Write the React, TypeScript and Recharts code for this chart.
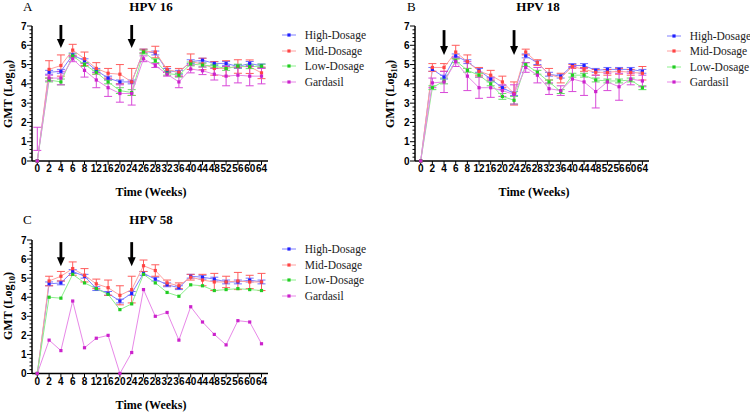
import { LineChart, Line, XAxis, YAxis, ErrorBar, ReferenceDot } from 'recharts';

const WEEKS = [0, 2, 4, 6, 8, 12, 16, 20, 24, 26, 28, 32, 36, 40, 44, 48, 52, 56, 60, 64];
const Y_TICKS = [0, 1, 2, 3, 4, 5, 6, 7];
const BOOSTER_WEEKS = [4, 24];

// HPV 16
const HPV16_HIGH = [0, 4.6, 4.65, 5.5, 5.2, 4.7, 4.3, 4.1, 4.1, 5.7, 5.6, 4.7, 4.6, 5.15, 5.23, 5.06, 5.06, 4.9, 5.06, 4.93];
const HPV16_HIGH_ERR = [0, 0.1, 0.1, 0.1, 0.1, 0.1, 0.1, 0.1, 0.1, 0.1, 0.1, 0.1, 0.1, 0.1, 0.1, 0.1, 0.1, 0.1, 0.1, 0.1];
const HPV16_MID = [0, 4.75, 4.95, 5.75, 5.3, 4.8, 4.55, 4.5, 4.1, 5.7, 5.65, 4.75, 4.6, 5.15, 5.03, 4.8, 4.8, 4.9, 4.89, 4.57];
const HPV16_MID_ERR = [0, 0.45, 0.55, 0.3, 0.35, 0.3, 0.25, 0.5, 0.7, 0.1, 0.3, 0.15, 0.2, 0.4, 0.3, 0.35, 0.4, 0.35, 0.35, 0.3];
const HPV16_LOW = [0, 4.2, 4.1, 5.45, 5.0, 4.6, 4.1, 3.65, 3.55, 5.65, 5.2, 4.55, 4.45, 5.03, 4.97, 4.92, 4.8, 4.92, 4.89, 4.92];
const HPV16_LOW_ERR = [0, 0.1, 0.15, 0.1, 0.1, 0.1, 0.1, 0.15, 0.15, 0.1, 0.1, 0.1, 0.1, 0.1, 0.1, 0.1, 0.1, 0.1, 0.1, 0.1];
const HPV16_GARD = [0, 4.3, 4.3, 5.3, 4.7, 4.2, 3.8, 3.5, 3.5, 5.3, 4.95, 4.5, 4.1, 4.77, 4.68, 4.5, 4.4, 4.45, 4.4, 4.4];
const HPV16_GARD_ERR: (number | number[])[] = [[-0.55, 1.75], 0.15, 0.35, 0.15, 0.35, 0.4, 0.45, 0.45, 0.6, 0.15, 0.1, 0.1, 0.3, 0.2, 0.2, 0.3, 0.5, 0.4, 0.5, 0.4];

// HPV 18
const HPV18_HIGH = [0, 4.75, 4.35, 5.45, 5.15, 4.7, 4.25, 3.8, 3.5, 5.45, 5.1, 4.5, 4.4, 4.95, 4.95, 4.7, 4.75, 4.75, 4.75, 4.65];
const HPV18_HIGH_ERR = [0, 0.1, 0.1, 0.1, 0.1, 0.1, 0.1, 0.1, 0.1, 0.1, 0.1, 0.1, 0.1, 0.1, 0.1, 0.1, 0.1, 0.1, 0.1, 0.1];
const HPV18_MID = [0, 4.85, 4.85, 5.65, 5.15, 4.65, 4.45, 4.1, 3.5, 5.65, 5.1, 4.5, 4.3, 4.9, 4.75, 4.6, 4.6, 4.65, 4.6, 4.55];
const HPV18_MID_ERR = [0, 0.2, 0.2, 0.35, 0.35, 0.2, 0.25, 0.3, 0.6, 0.15, 0.15, 0.3, 0.25, 0.1, 0.1, 0.15, 0.15, 0.15, 0.15, 0.35];
const HPV18_LOW = [0, 3.8, 4.15, 5.2, 4.7, 4.45, 4.0, 3.35, 3.15, 5.0, 4.6, 4.1, 3.6, 4.45, 4.45, 4.2, 4.15, 4.15, 4.2, 3.8];
const HPV18_LOW_ERR = [0, 0.1, 0.15, 0.1, 0.1, 0.1, 0.1, 0.15, 0.2, 0.1, 0.1, 0.1, 0.1, 0.1, 0.1, 0.1, 0.1, 0.1, 0.1, 0.1];
const HPV18_GARD = [0, 4.05, 4.1, 5.15, 4.4, 3.8, 3.8, 3.65, 3.45, 4.85, 4.45, 3.75, 3.65, 4.25, 4.1, 3.6, 4.1, 3.85, 4.25, 4.15];
const HPV18_GARD_ERR = [0, 0.25, 0.55, 0.25, 0.75, 0.55, 0.5, 0.3, 0.5, 0.25, 0.4, 0.3, 0.25, 0.65, 0.7, 0.85, 0.45, 0.7, 0.3, 0.3];

// HPV 58
const HPV58_HIGH = [0, 4.7, 4.75, 5.35, 5.1, 4.45, 4.2, 3.8, 4.2, 5.25, 4.95, 4.65, 4.5, 5.1, 5.05, 4.95, 4.8, 4.8, 4.9, 4.8];
const HPV58_HIGH_ERR = [0, 0.1, 0.1, 0.1, 0.1, 0.1, 0.1, 0.1, 0.1, 0.1, 0.1, 0.1, 0.1, 0.1, 0.1, 0.1, 0.1, 0.1, 0.1, 0.1];
const HPV58_MID = [0, 4.85, 5.1, 5.5, 5.15, 4.7, 4.5, 4.1, 4.4, 5.65, 5.4, 4.75, 4.6, 5.05, 4.9, 4.8, 4.8, 4.85, 4.8, 4.8];
const HPV58_MID_ERR = [0, 0.25, 0.25, 0.35, 0.35, 0.25, 0.4, 0.5, 0.7, 0.3, 0.3, 0.15, 0.15, 0.15, 0.3, 0.45, 0.3, 0.45, 0.35, 0.45];
const HPV58_LOW = [0, 4.0, 3.95, 5.2, 4.75, 4.45, 4.15, 3.35, 3.65, 5.2, 4.75, 4.25, 4.05, 4.65, 4.6, 4.35, 4.4, 4.45, 4.4, 4.35];
const HPV58_GARD = [0, 1.75, 1.2, 3.8, 1.35, 1.85, 2.0, 0, 1.1, 4.4, 3.0, 3.2, 1.75, 3.5, 2.7, 2.05, 1.5, 2.77, 2.7, 1.56];

const SERIES = [
    { key: 'high', name: 'High-Dosage', line: '#8080ff', mark: '#2020ff', err: '#7070ff' },
    { key: 'mid', name: 'Mid-Dosage', line: '#ffa0a0', mark: '#ff4444', err: '#ff5c5c' },
    { key: 'low', name: 'Low-Dosage', line: '#8cf08c', mark: '#22cc22', err: '#66dd66' },
    { key: 'gard', name: 'Gardasil', line: '#e888e8', mark: '#cc22cc', err: '#d848d8' },
];

const SERIF = '"Liberation Serif", "Times New Roman", serif';
const SANS = '"Liberation Sans", Arial, sans-serif';
// major ticks at Y_TICKS, minor ticks every 0.2
const Y_STEPS = Array.from({ length: 36 }, (_, i) => Math.round(i * 2) / 10);

type Row = Record<string, number | number[] | null>;

function buildRows(cols: Record<string, (number | number[])[] | undefined>): Row[] {
    return WEEKS.map((w, i) => {
        const row: Row = { week: w };
        Object.entries(cols).forEach(([k, arr]) => {
            row[k] = arr ? arr[i] : null;
        });
        return row;
    });
}

const HPV16_ROWS = buildRows({
    high: HPV16_HIGH, highErr: HPV16_HIGH_ERR, mid: HPV16_MID, midErr: HPV16_MID_ERR,
    low: HPV16_LOW, lowErr: HPV16_LOW_ERR, gard: HPV16_GARD, gardErr: HPV16_GARD_ERR,
});
const HPV18_ROWS = buildRows({
    high: HPV18_HIGH, highErr: HPV18_HIGH_ERR, mid: HPV18_MID, midErr: HPV18_MID_ERR,
    low: HPV18_LOW, lowErr: HPV18_LOW_ERR, gard: HPV18_GARD, gardErr: HPV18_GARD_ERR,
});
const HPV58_ROWS = buildRows({
    high: HPV58_HIGH, highErr: HPV58_HIGH_ERR, mid: HPV58_MID, midErr: HPV58_MID_ERR,
    low: HPV58_LOW, gard: HPV58_GARD,
});

const squareDot = (color: string) => (props: any) => {
    const { cx, cy, index } = props;
    if (cx == null || cy == null) return <g key={index} />;
    return <rect key={index} x={cx - 1.6} y={cy - 1.6} width={3.2} height={3.2} fill={color} />;
};

const arrowShape = (len: number) => (props: any) => {
    const { cx, cy } = props;
    const head = 9;
    return (
        <g>
            <rect x={cx - 1.4} y={cy - len} width={2.8} height={len - head + 1} fill="#000" />
            <path d={`M${cx - 4},${cy - head} L${cx + 4},${cy - head} L${cx},${cy} Z`} fill="#000" />
        </g>
    );
};

const YTick = (props: any) => {
    const { x, y, payload } = props;
    const v = payload.value as number;
    const major = Y_TICKS.includes(v);
    return (
        <g>
            <line x1={major ? x : x + 2.5} x2={x + 5} y1={y} y2={y} stroke="#000" strokeWidth={1} />
            {major && (
                <text x={x - 0.5} y={y} dy="0.36em" textAnchor="end" fontFamily={SANS} fontWeight="bold" fontSize={10} fill="#000">
                    {v}
                </text>
            )}
        </g>
    );
};

interface PanelProps {
    rows: Row[];
    left: number;
    top: number;
    height: number;
    plotHeight: number;
    plotWidth: number;
    padLeft: number;
    padRight: number;
    arrowTip: number;
    arrowLen: number;
    legendX: number;
    legendY: number;
}

function Panel({ rows, left, top, height, plotHeight, plotWidth, padLeft, padRight, arrowTip, arrowLen, legendX, legendY }: PanelProps) {
    const width = 370;
    const hasErr = (k: string) => rows.some((r) => r[k] != null);
    return (
        <div style={{ position: 'absolute', left, top, width, height }}>
            <LineChart
                width={width}
                height={height}
                data={rows}
                margin={{ top: 26, right: width - 32 - plotWidth, bottom: 0, left: 0 }}
            >
                <XAxis
                    dataKey="week"
                    type="category"
                    interval={0}
                    height={height - 26 - plotHeight}
                    padding={{ left: padLeft, right: padRight }}
                    tick={{ fontSize: 10, fontWeight: 'bold', fill: '#000', fontFamily: SANS }}
                    tickLine={{ stroke: '#000' }}
                    axisLine={{ stroke: '#000', strokeWidth: 1.5 }}
                    tickSize={4}
                    tickMargin={0}
                />
                <YAxis
                    type="number"
                    domain={[0, 7]}
                    ticks={Y_STEPS}
                    interval={0}
                    width={32}
                    tick={<YTick />}
                    tickLine={false}
                    tickSize={5}
                    tickMargin={0}
                    axisLine={{ stroke: '#000', strokeWidth: 1.5 }}
                />
                {SERIES.map((s) => (
                    <Line
                        key={s.key}
                        dataKey={s.key}
                        type="linear"
                        stroke={s.line}
                        strokeWidth={1}
                        dot={squareDot(s.mark)}
                        activeDot={false}
                        isAnimationActive={false}
                    >
                        {hasErr(s.key + 'Err') && (
                            <ErrorBar dataKey={s.key + 'Err'} direction="y" width={4} stroke={s.err} strokeWidth={1} />
                        )}
                    </Line>
                ))}
                {BOOSTER_WEEKS.map((w) => (
                    <ReferenceDot key={w} x={w} y={arrowTip} r={0} ifOverflow="visible" shape={arrowShape(arrowLen)} />
                ))}
            </LineChart>
            {/* Legend */}
            <div style={{ position: 'absolute', left: legendX - left, top: legendY - top }}>
                {SERIES.map((s, i) => (
                    <div key={s.key} style={{ position: 'absolute', top: i * 15.5 - 8, left: 0, height: 16, display: 'flex', alignItems: 'center', whiteSpace: 'nowrap' }}>
                        <svg width={14} height={8} style={{ display: 'block' }}>
                            <line x1={0} x2={14} y1={4} y2={4} stroke={s.line} strokeWidth={1} />
                            <rect x={5.4} y={2.4} width={3.2} height={3.2} fill={s.mark} />
                        </svg>
                        <span style={{ marginLeft: 9, fontFamily: SERIF, fontSize: 11.5, color: '#222' }}>{s.name}</span>
                    </div>
                ))}
            </div>
        </div>
    );
}

function YLabel({ x, y }: { x: number; y: number }) {
    return (
        <text transform={`translate(${x},${y}) rotate(-90)`} textAnchor="middle" dy="0.35em" fontFamily={SERIF} fontWeight="bold" fontSize={12}>
            GMT (Log<tspan fontSize={8.5} dy={3}>10</tspan><tspan dy={-3}>)</tspan>
        </text>
    );
}

export default function App() {
    return (
        <div style={{ position: 'absolute', left: 0, top: 0, width: 750, height: 414, background: '#fff', overflow: 'hidden' }}>
            <Panel rows={HPV16_ROWS} left={0} top={0} height={210} plotHeight={135} plotWidth={236} padLeft={5.3} padRight={6.5}
                arrowTip={5.86} arrowLen={23} legendX={281.7} legendY={35} />
            <Panel rows={HPV18_ROWS} left={383} top={0} height={210} plotHeight={135} plotWidth={234} padLeft={5.7} padRight={6.6}
                arrowTip={5.49} arrowLen={25} legendX={666.7} legendY={35.5} />
            <Panel rows={HPV58_ROWS} left={0} top={214} height={200} plotHeight={133.5} plotWidth={236} padLeft={5.3} padRight={6.5}
                arrowTip={5.63} arrowLen={24} legendX={281.7} legendY={249.3} />
            <svg width={750} height={414} style={{ position: 'absolute', left: 0, top: 0, pointerEvents: 'none' }}>
                <g fontFamily={SERIF} fill="#000">
                    <text x={23} y={11} fontSize={13}>A</text>
                    <text x={151} y={10.5} fontSize={13} fontWeight="bold" textAnchor="middle">HPV 16</text>
                    <text x={407} y={11} fontSize={13}>B</text>
                    <text x={538} y={10.5} fontSize={13} fontWeight="bold" textAnchor="middle">HPV 18</text>
                    <text x={23} y={224} fontSize={13}>C</text>
                    <text x={151} y={223.5} fontSize={13} fontWeight="bold" textAnchor="middle">HPV 58</text>
                    <text x={151} y={196} fontSize={12} fontWeight="bold" textAnchor="middle">Time (Weeks)</text>
                    <text x={534} y={196} fontSize={12} fontWeight="bold" textAnchor="middle">Time (Weeks)</text>
                    <text x={151} y={408.5} fontSize={12} fontWeight="bold" textAnchor="middle">Time (Weeks)</text>
                </g>
                <YLabel x={8} y={94} />
                <YLabel x={390} y={94} />
                <YLabel x={8} y={306} />
            </svg>
        </div>
    );
}
